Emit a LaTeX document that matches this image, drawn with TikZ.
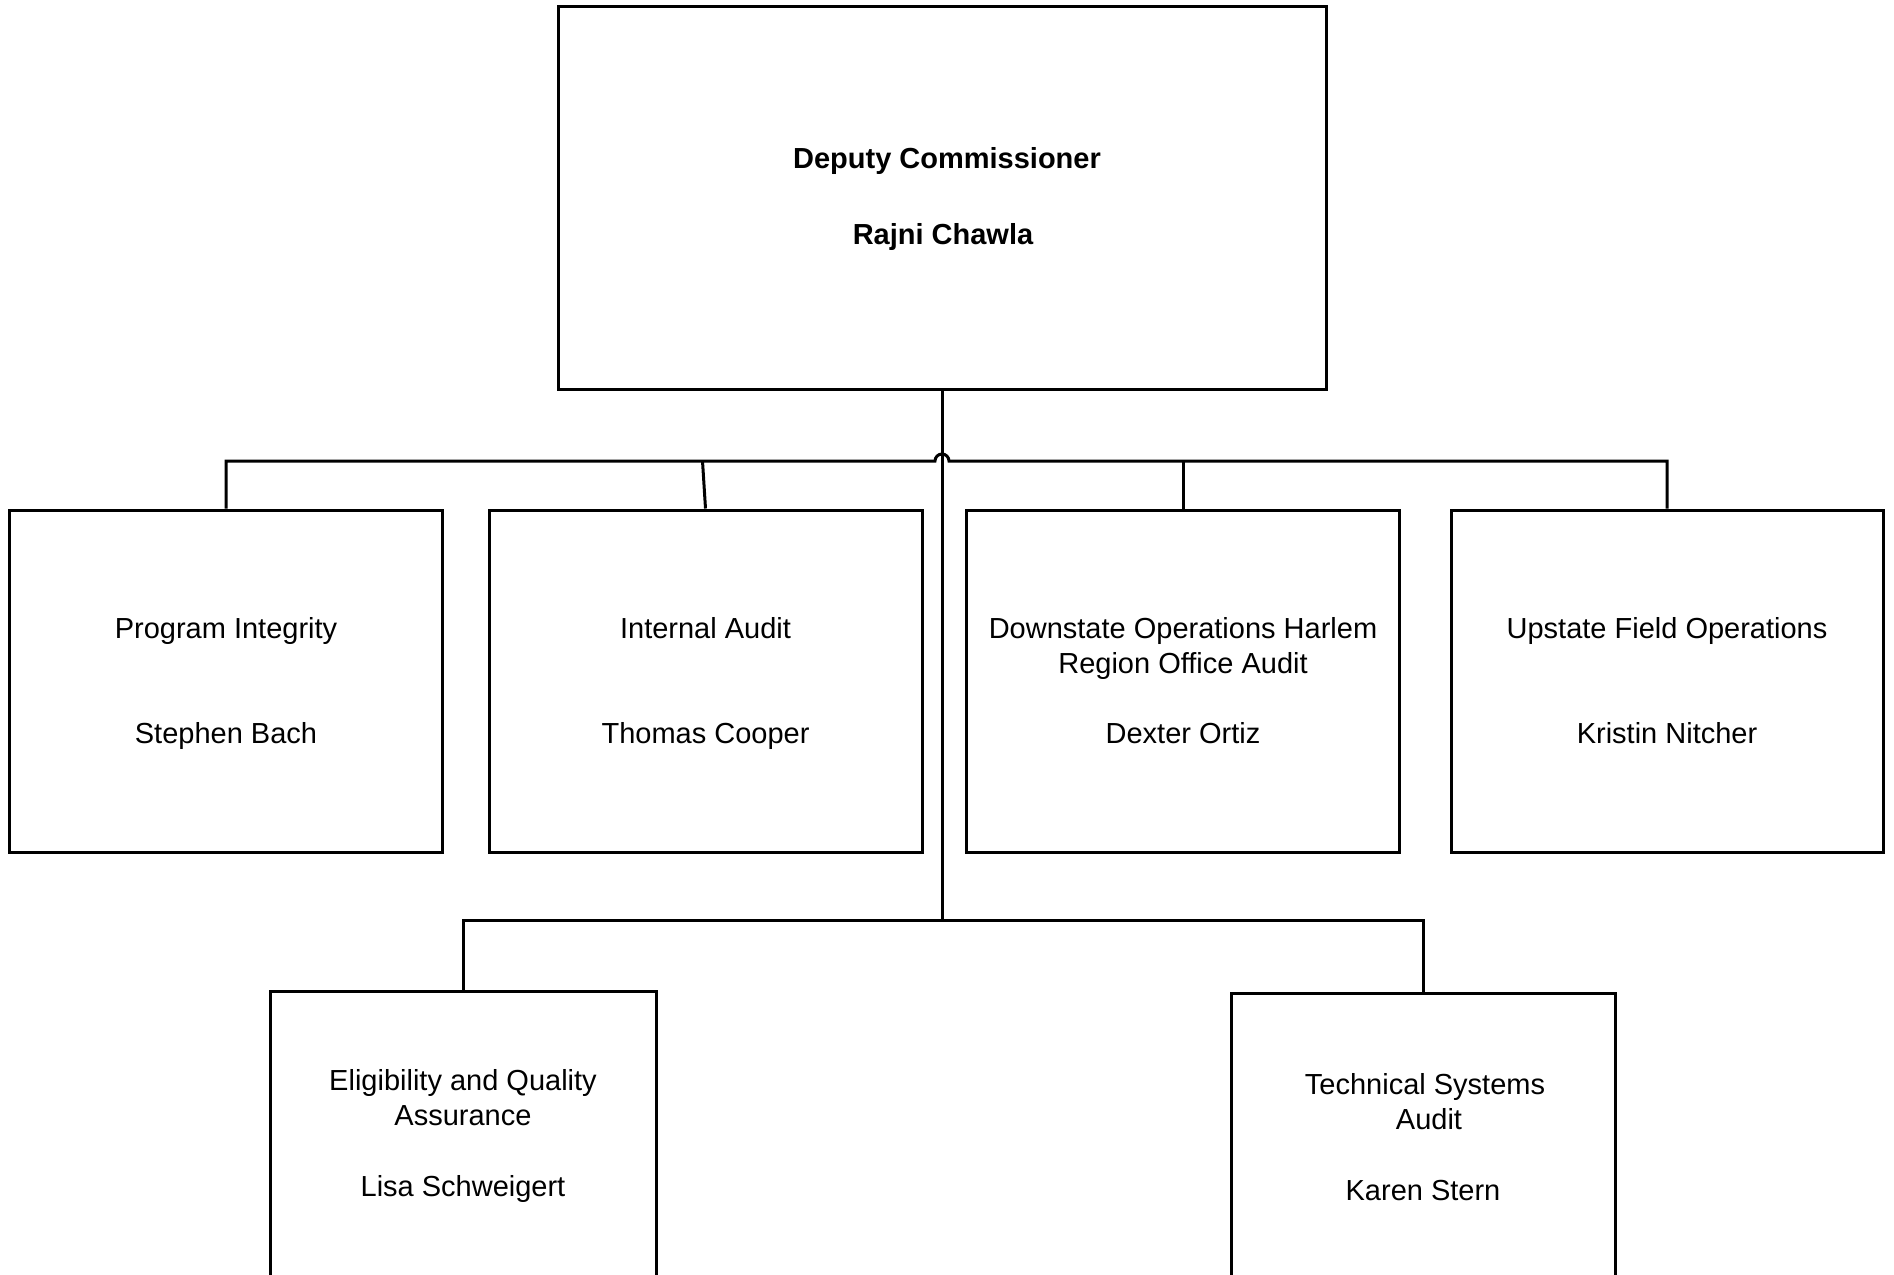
\documentclass[tikz,border=0pt]{standalone}
\usepackage{fontspec}
\setmainfont{Liberation Sans}
\begin{document}
\begin{tikzpicture}[x=1pt,y=-1pt,
  box/.style={draw=black,line width=3pt,rectangle,inner sep=0pt,fill=white},
  lbl/.style={align=center,anchor=base,font=\fontsize{29}{35}\selectfont,inner sep=0pt},
  blbl/.style={lbl,font=\fontsize{29}{35}\selectfont\bfseries},
  conn/.style={line width=3pt,line cap=butt}]
\useasboundingbox[fill=white] (0,0) rectangle (1894,1274);
% boxes
\node[box,minimum width=768.5pt,minimum height=383pt] (top) at (942.7,197.5) {};
\node[box,minimum width=433pt,minimum height=342pt] (b1) at (226,681) {};
\node[box,minimum width=433pt,minimum height=342pt] (b2) at (705.5,681) {};
\node[box,minimum width=433pt,minimum height=342pt] (b3) at (1183,681) {};
\node[box,minimum width=432pt,minimum height=342pt] (b4) at (1667,681) {};
\node[box,minimum width=386pt,minimum height=300pt] (b5) at (463,1141) {};
\node[box,minimum width=384pt,minimum height=296pt] (b6) at (1423,1141) {};
% texts (base anchor = baseline of the last line)
\node[blbl] (t0a) at (947,168) {Deputy Commissioner};
\node[blbl] (t0b) at (943,244) {Rajni Chawla};
\node[lbl] (t1a) at (b1.center |- 0,638.5) {Program Integrity};
\node[lbl] (t1b) at (b1.center |- 0,743.8) {Stephen Bach};
\node[lbl] (t2a) at (b2.center |- 0,638.5) {Internal Audit};
\node[lbl] (t2b) at (b2.center |- 0,743.8) {Thomas Cooper};
\node[lbl] (t3a) at (b3.center |- 0,673.6) {Downstate Operations Harlem\\Region Office Audit};
\node[lbl] (t3b) at (b3.center |- 0,743.8) {Dexter Ortiz};
\node[lbl] (t4a) at (b4.center |- 0,638.5) {Upstate Field Operations};
\node[lbl] (t4b) at (b4.center |- 0,743.8) {Kristin Nitcher};
\node[lbl] (t5a) at (b5.center |- 0,1125) {Eligibility and Quality\\Assurance};
\node[lbl] (t5b) at (b5.center |- 0,1196.5) {Lisa Schweigert};
\node[lbl] (t6a) at (1425,1129.7) {Technical Systems\\\hspace*{8pt}Audit};
\node[lbl] (t6b) at (b6.center |- 0,1200) {Karen Stern};
% connector points
\coordinate (bus) at (0,461);
\coordinate (hopL) at (935,461);
\coordinate (hopR) at (949,461);
\coordinate (split) at (top.south |- 0,920);
% connectors
\draw[conn] (b1.north) -- (b1.north |- bus) -- (hopL) arc[start angle=180,end angle=0,radius=7pt] -- (b4.north |- bus) -- (b4.north);
\draw[conn] (b3.north) -- (b3.north |- bus);
\draw[conn] (b2.north) -- ([xshift=-3pt]b2.north |- bus);
\draw[conn] (top.south) -- (split);
\draw[conn] (b5.north) -- (b5.north |- split) -- (b6.north |- split) -- (b6.north);
\end{tikzpicture}
\end{document}
